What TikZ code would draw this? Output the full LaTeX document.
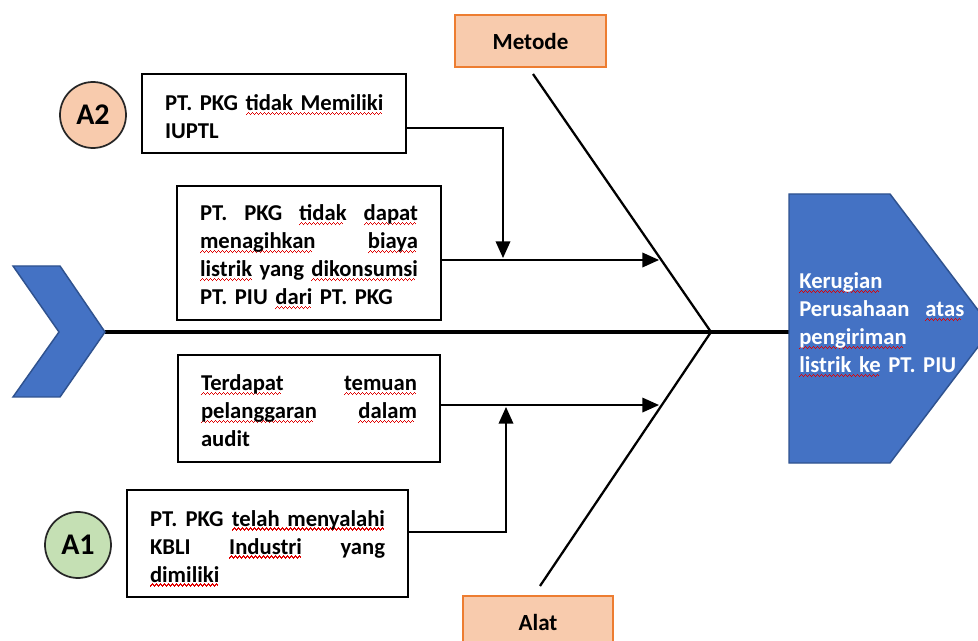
\documentclass[tikz,border=0pt]{standalone}
\usepackage{fontspec}
\setmainfont{Carlito}
\usetikzlibrary{arrows.meta,calc}
\definecolor{fishblue}{HTML}{4472C4}
\definecolor{fishedge}{HTML}{2F528F}
\definecolor{peach}{HTML}{F8CBAD}
\definecolor{orangeedge}{HTML}{ED7D31}
\definecolor{lightgreen}{HTML}{C5E0B4}
\definecolor{squig}{HTML}{E00000}
\newsavebox\sqbox
\newcommand\wavecell{\hbox{\rule[-3.6pt]{0.75pt}{1.15pt}\rule[-2.8pt]{0.75pt}{1.15pt}\rule[-2.0pt]{0.75pt}{1.15pt}\rule[-2.8pt]{0.75pt}{1.15pt}}}
\newcommand\sq[1]{\leavevmode\sbox\sqbox{#1}\rlap{\textcolor{squig}{\hbox to\wd\sqbox{\leaders\wavecell\hfill}}}\usebox\sqbox}
\newcommand\J[2]{\leavevmode\hbox to #1{#2}}
\tikzset{
  txtbox/.style={draw=black, line width=1.6pt, fill=white, rectangle, inner sep=0pt},
  boxtext/.style={inner sep=0pt, align=left, font=\bfseries\fontsize{17}{21}\selectfont},
  catbox/.style={draw=orangeedge, line width=1.3pt, fill=peach, rectangle, inner sep=0pt,
    minimum width=113pt, minimum height=39pt, font=\bfseries\fontsize{17.3}{20}\selectfont},
  tag/.style={circle, draw=black!85, line width=1.3pt, minimum size=49.5pt, inner sep=0pt,
    font=\bfseries\fontsize{22.5}{25}\selectfont},
  bone/.style={line width=1.7pt, black},
  spine/.style={line width=2.6pt, black},
  conn/.style={line width=1.1pt, black, -{Triangle[length=12.5pt,width=11pt]}},
  headtxt/.style={text=white, inner sep=0pt, align=left, text width=123.75pt,
    font=\bfseries\fontsize{17}{21}\selectfont},
  fishpart/.style={fill=fishblue, draw=fishedge, line width=1.1pt, line join=miter}
}
\begin{document}
\begin{tikzpicture}[x=0.75pt,y=-0.75pt]
\useasboundingbox (0,0) rectangle (978,641);
\clip (0,0) rectangle (978,641);

% key points
\coordinate (tailtip) at (105,332);
\coordinate (junction) at (711,332);
\coordinate (headleft) at (789,332);
\coordinate (mtop) at (533,74);
\coordinate (atop) at (540,586);
\coordinate (metpt) at (659,260);
\coordinate (alatpt) at (659,405);
\coordinate (a2arrow) at (503,258);
\coordinate (a1arrow) at (506,407);

% spine and bones
\draw[spine] (tailtip) -- (headleft);
\draw[bone] (mtop) -- (junction);
\draw[bone] (atop) -- (junction);

% tail
\draw[fishpart] (13,266) -- (60,266) -- (tailtip) -- (60,397) -- (13,397) -- (59,332) -- cycle;

% head
\draw[fishpart] (789,194) -- (890,194) -- (992,328.5) -- (890,463) -- (789,463) -- cycle;
\node[headtxt, anchor=west] (headtext) at (799,325)
  {\sq{Kerugian}\\ \J{123.75pt}{Perusahaan\hfill\sq{atas}}\\ \sq{pengiriman}\\ \sq{listrik ke} PT. PIU};

% category boxes
\node[catbox] (metode) at (530.5,41) {Metode};
\node[catbox] (alat) at (538,622) {Alat};

% cause boxes
\node[txtbox, minimum width=198pt, minimum height=59.25pt] (a2box) at (274,113.5) {};
\node[boxtext, text width=163.5pt] (a2text) at ($(a2box.center)+(0,3)$)
  {\mbox{PT. PKG \sq{tidak Memiliki}}\\ IUPTL};

\node[txtbox, minimum width=198pt, minimum height=100.5pt] (b2) at (309,253) {};
\node[boxtext, text width=163.5pt] (b2text) at ($(b2.center)+(0,4)$)
  {\J{163.5pt}{PT.\hfill PKG\hfill\sq{tidak}\hfill\sq{dapat}}\\
   \J{163.5pt}{\sq{menagihkan}\hfill\sq{biaya}}\\
   \J{163.5pt}{\sq{listrik}\hfill yang\hfill\sq{dikonsumsi}}\\
   PT. PIU \sq{dari} PT. PKG};

\node[txtbox, minimum width=196.5pt, minimum height=80.25pt] (b3) at (309,408.5) {};
\node[boxtext, text width=162pt] (b3text) at ($(b3.center)+(0,2)$)
  {\J{162pt}{\sq{Terdapat}\hfill\sq{temuan}}\\
   \J{162pt}{\sq{pelanggaran}\hfill\sq{dalam}}\\
   audit};

\node[txtbox, minimum width=210.75pt, minimum height=80.25pt] (a1box) at (267.5,543.5) {};
\node[boxtext, text width=176.25pt] (a1text) at ($(a1box.center)+(0,5)$)
  {\J{176.25pt}{PT.\hfill PKG\hfill\sq{telah menyalahi}}\\
   \J{176.25pt}{KBLI\hfill\sq{Industri}\hfill yang}\\
   \sq{dimiliki}};

% tags
\node[tag, fill=peach] (a2) at (93,115) {A2};
\node[tag, fill=lightgreen] (a1) at (78,545) {A1};

% connectors
\draw[conn] ([yshift=-10.9pt]a2box.east) -| (a2arrow);
\draw[conn] ([yshift=-5.25pt]b2.east) -- ([yshift=-5.25pt]b2.east -| metpt);
\draw[conn] ([yshift=2.6pt]b3.east) -- ([yshift=2.6pt]b3.east -| alatpt);
\draw[conn] ([yshift=8.6pt]a1box.east) -| (a1arrow);
\end{tikzpicture}
\end{document}
